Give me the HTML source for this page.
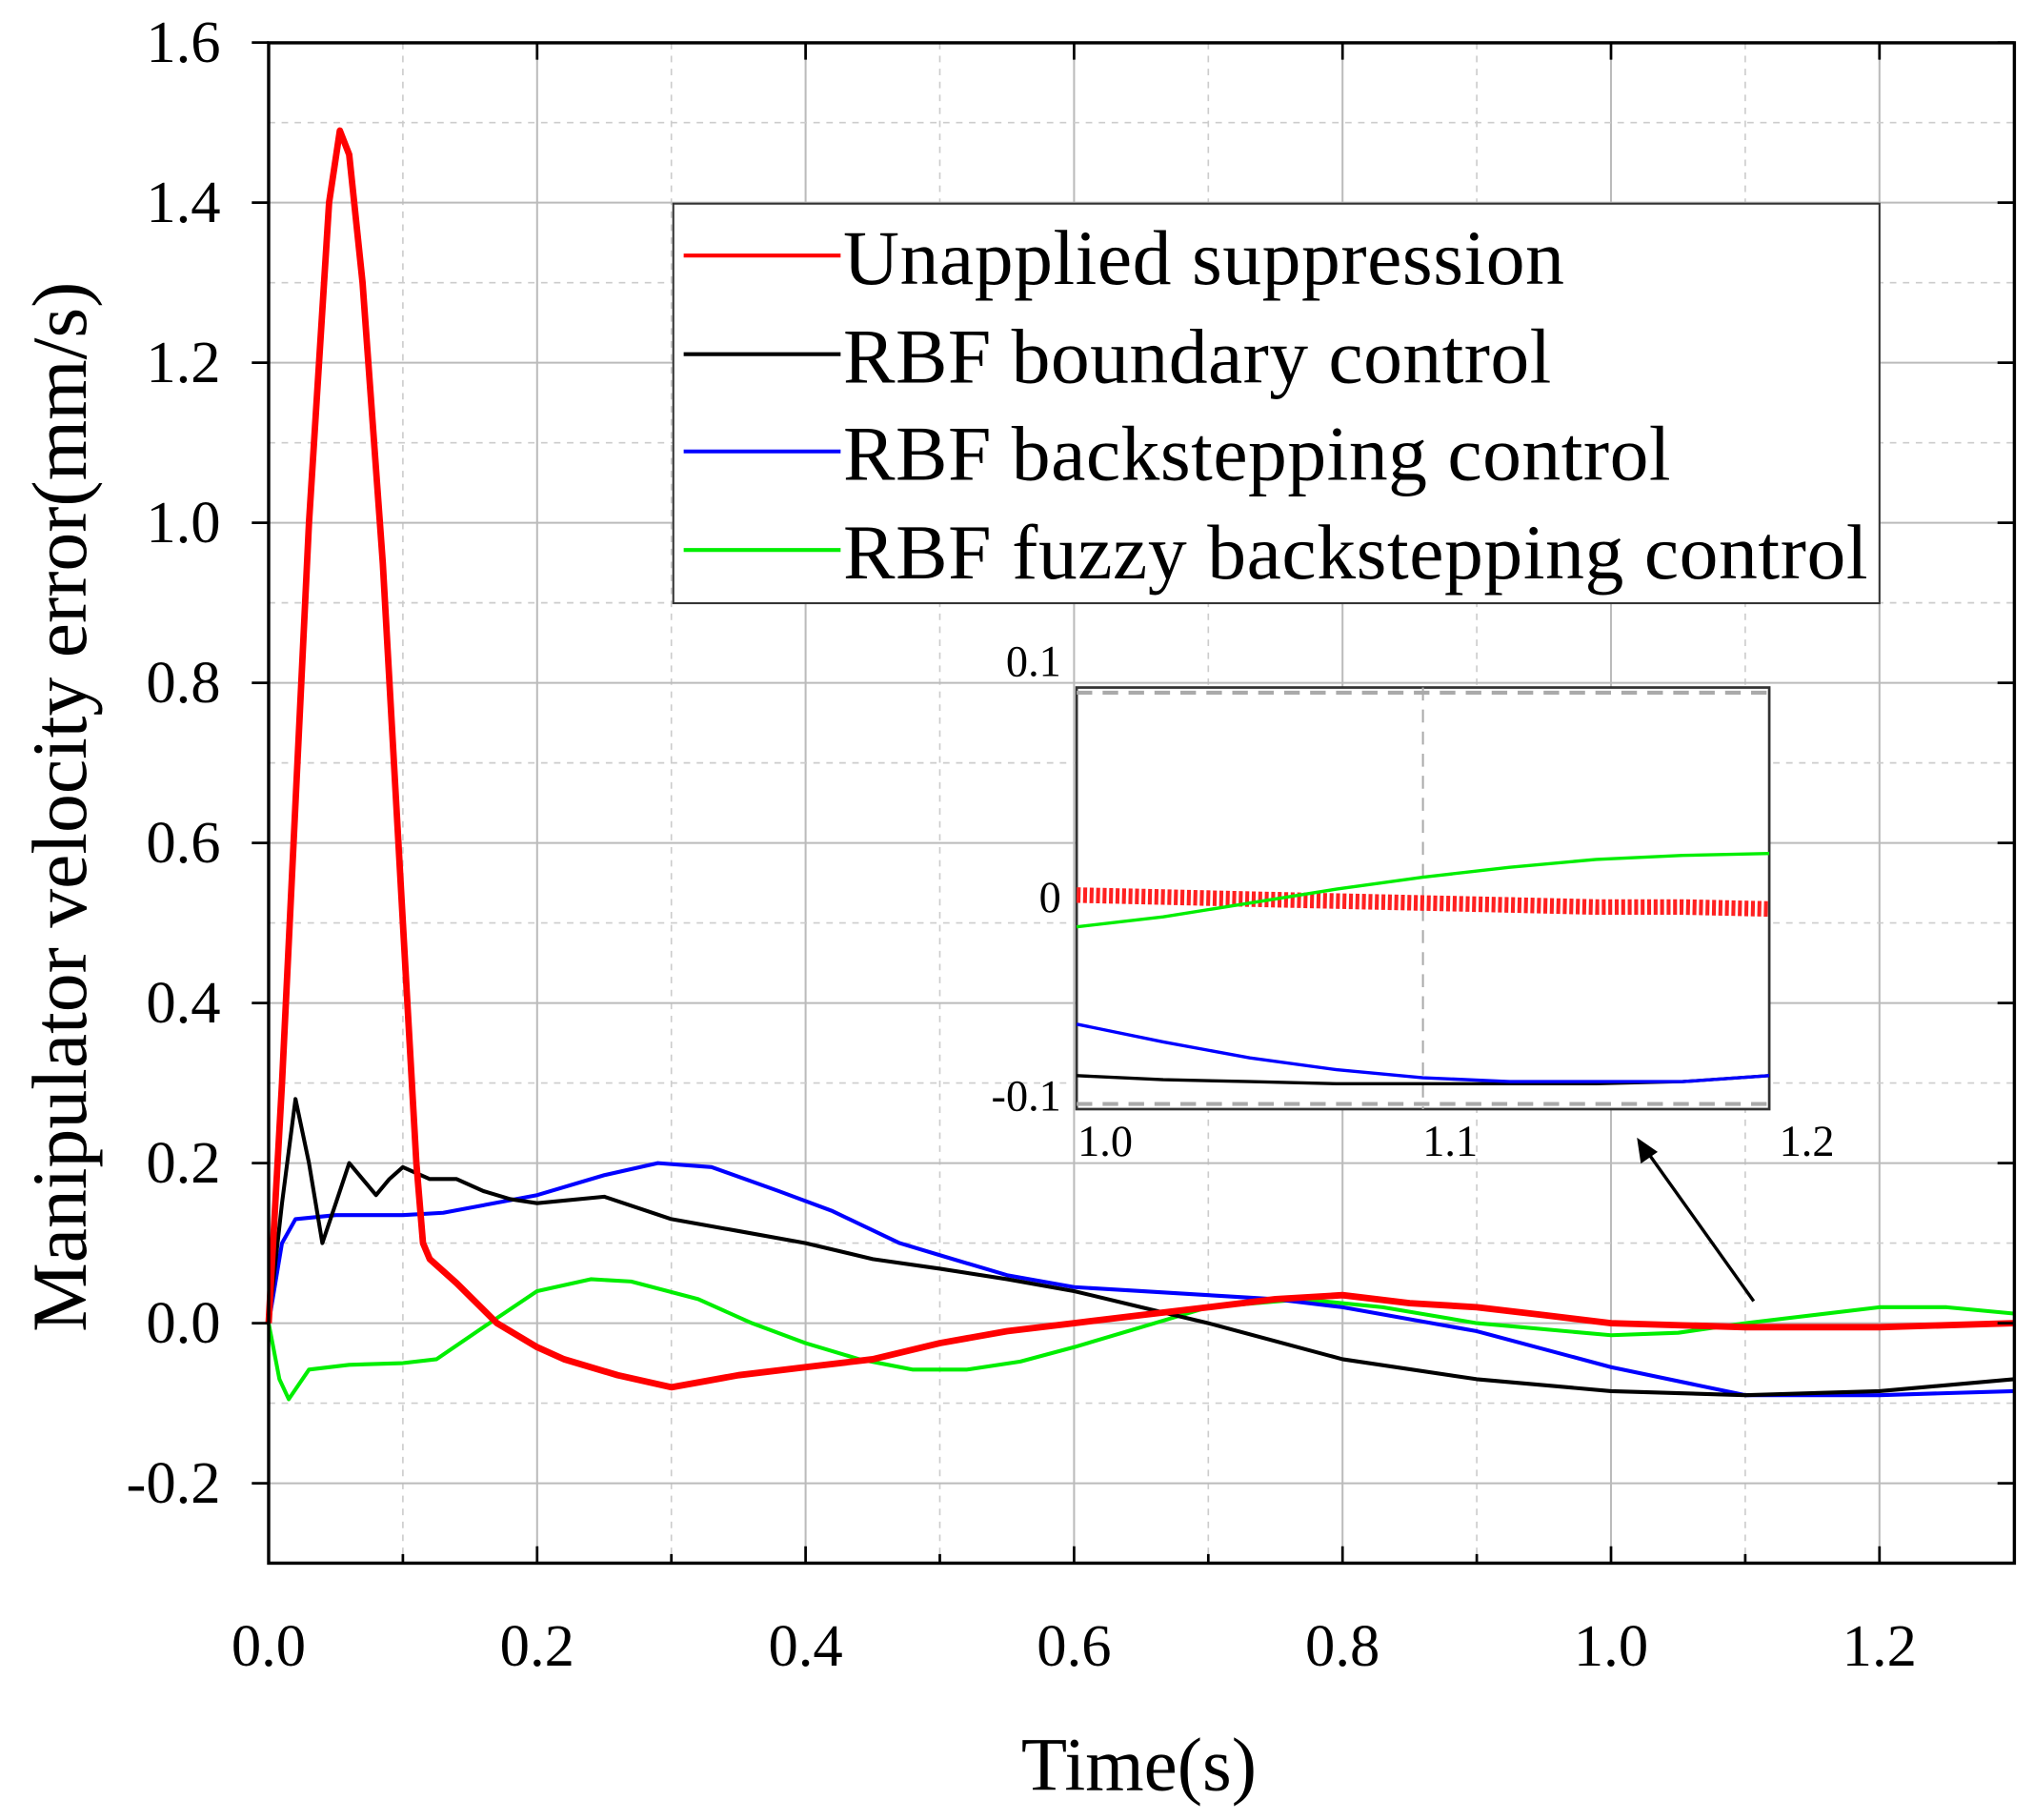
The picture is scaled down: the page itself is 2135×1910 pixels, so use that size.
<!DOCTYPE html>
<html><head><meta charset="utf-8"><style>
html,body{margin:0;padding:0;background:#fff}
svg{display:block}
text{font-family:"Liberation Serif",serif;fill:#000}
</style></head><body>
<svg id="chart" width="2135" height="1910" viewBox="0 0 1568 1403" xmlns="http://www.w3.org/2000/svg">
<g id="grid"></g>
<g id="series"></g>
<rect x="207" y="33" width="1346" height="1172" fill="none" stroke="#000" stroke-width="2.5"/>
<g id="ticks"></g>
<text transform="translate(66,622) rotate(-90)" text-anchor="middle" font-size="60">Manipulator velocity error(mm/s)</text>
<text x="878" y="1380" text-anchor="middle" font-size="58">Time(s)</text>
<g>
<rect x="519" y="157" width="930" height="308" fill="#fff" stroke="#333" stroke-width="1.5"/>
<g><line x1="527" y1="197" x2="648" y2="197" stroke="#ff0000" stroke-width="3"/><text x="650" y="219" font-size="60" textLength="556">Unapplied suppression</text></g>
<g><line x1="527" y1="273" x2="648" y2="273" stroke="#000" stroke-width="3"/><text x="650" y="295" font-size="60" textLength="546">RBF boundary control</text></g>
<g><line x1="527" y1="348" x2="648" y2="348" stroke="#0000ff" stroke-width="3"/><text x="650" y="370" font-size="60" textLength="638">RBF backstepping control</text></g>
<g><line x1="527" y1="424" x2="648" y2="424" stroke="#00ee00" stroke-width="3"/><text x="650" y="446" font-size="60" textLength="790">RBF fuzzy backstepping control</text></g>
</g>
<g id="inset"></g>
<g>
<line x1="1352" y1="1003" x2="1270" y2="888" stroke="#000" stroke-width="2.5"/>
<polygon points="1262,877 1265,897 1278,888" fill="#000"/>
</g>
</svg>
<script>
const xTicks=[0,0.2,0.4,0.6,0.8,1.0,1.2];
const xTickLabels=["0.0","0.2","0.4","0.6","0.8","1.0","1.2"];
const yTicks=[-0.2,0,0.2,0.4,0.6,0.8,1.0,1.2,1.4,1.6];
const yTickLabels=["-0.2","0.0","0.2","0.4","0.6","0.8","1.0","1.2","1.4","1.6"];
const redT=[0,0.01,0.03,0.045,0.053,0.06,0.07,0.085,0.1,0.11,0.115,0.12,0.14,0.17,0.2,0.22,0.26,0.3,0.35,0.4,0.45,0.5,0.55,0.6,0.65,0.7,0.75,0.8,0.85,0.9,0.95,1.0,1.1,1.2,1.3];
const redV=[0,0.3,1.0,1.4,1.49,1.46,1.3,0.95,0.5,0.2,0.1,0.08,0.05,0.0,-0.03,-0.045,-0.065,-0.08,-0.065,-0.055,-0.045,-0.025,-0.01,0.0,0.01,0.02,0.03,0.035,0.025,0.02,0.01,0.0,-0.005,-0.005,0.0];
const blackT=[0,0.01,0.02,0.03,0.04,0.05,0.06,0.07,0.08,0.09,0.1,0.12,0.14,0.16,0.18,0.2,0.25,0.3,0.35,0.4,0.45,0.5,0.55,0.6,0.65,0.7,0.8,0.9,1.0,1.1,1.2,1.3];
const blackV=[0,0.15,0.28,0.2,0.1,0.15,0.2,0.18,0.16,0.18,0.195,0.18,0.18,0.165,0.155,0.15,0.158,0.13,0.115,0.1,0.08,0.068,0.055,0.04,0.02,0.0,-0.045,-0.07,-0.085,-0.09,-0.085,-0.07];
const blueT=[0,0.01,0.02,0.05,0.1,0.13,0.2,0.25,0.29,0.33,0.38,0.42,0.47,0.5,0.55,0.6,0.65,0.7,0.75,0.8,0.9,1.0,1.1,1.2,1.3];
const blueV=[0,0.1,0.13,0.135,0.135,0.138,0.16,0.185,0.2,0.195,0.165,0.14,0.1,0.085,0.06,0.045,0.04,0.035,0.03,0.02,-0.01,-0.055,-0.09,-0.09,-0.085];
const greenT=[0,0.008,0.015,0.03,0.06,0.1,0.125,0.16,0.2,0.24,0.27,0.32,0.36,0.4,0.44,0.48,0.52,0.56,0.6,0.65,0.7,0.77,0.83,0.9,1.0,1.05,1.1,1.2,1.25,1.3];
const greenV=[0,-0.07,-0.095,-0.058,-0.052,-0.05,-0.045,-0.005,0.04,0.055,0.052,0.03,0.0,-0.025,-0.045,-0.058,-0.058,-0.048,-0.03,-0.005,0.02,0.03,0.02,0.0,-0.015,-0.012,0.0,0.02,0.02,0.012];
const insetT=[1.0,1.025,1.05,1.075,1.1,1.125,1.15,1.175,1.2];
const insetRed=[0,-0.001,-0.002,-0.003,-0.004,-0.005,-0.006,-0.006,-0.007];
const insetBlack=[-0.091,-0.093,-0.094,-0.095,-0.095,-0.095,-0.095,-0.094,-0.091];
const insetBlue=[-0.065,-0.074,-0.082,-0.088,-0.092,-0.094,-0.094,-0.094,-0.091];
const insetGreen=[-0.016,-0.011,-0.004,0.003,0.009,0.014,0.018,0.020,0.021];

const NS="http://www.w3.org/2000/svg";
const X=t=>207+t*1035, Y=v=>1020-v*617;
const IX=t=>830+(t-1.0)*2670, IY=v=>690-v*1530;
function mk(tag,attrs,parent){const e=document.createElementNS(NS,tag);for(const k in attrs)e.setAttribute(k,attrs[k]);parent.appendChild(e);return e;}
const grid=document.getElementById('grid'),ticks=document.getElementById('ticks'),series=document.getElementById('series'),inset=document.getElementById('inset');
for(let i=1;i<=12;i++){const t=i*0.1;const major=i%2===0;
 const l=mk('line',{x1:X(t),x2:X(t),y1:33,y2:1205,stroke:major?'#bbb':'#ccc','stroke-width':major?1.5:1.2,'stroke-dasharray':major?'none':'5,5'},grid);
 }
for(let i=-2;i<=15;i++){const v=i*0.1;const major=i%2===0;
 const l=mk('line',{x1:207,x2:1553,y1:Y(v),y2:Y(v),stroke:major?'#bbb':'#ccc','stroke-width':major?1.5:1.2,'stroke-dasharray':major?'none':'5,5'},grid);
 }
xTicks.forEach((t,i)=>{mk('line',{x1:X(t),x2:X(t),y1:1205,y2:1192,stroke:'#000','stroke-width':2},ticks);
 mk('line',{x1:X(t),x2:X(t),y1:33,y2:46,stroke:'#000','stroke-width':2},ticks);
 const tx=mk('text',{x:X(t),y:1284,'text-anchor':'middle','font-size':46},ticks);tx.textContent=xTickLabels[i];
 });
for(let i=1;i<13;i+=2){mk('line',{x1:X(i*0.1),x2:X(i*0.1),y1:1205,y2:1198,stroke:'#000','stroke-width':2},ticks);}
yTicks.forEach((v,i)=>{mk('line',{x1:207,x2:194,y1:Y(v),y2:Y(v),stroke:'#000','stroke-width':2},ticks);
 mk('line',{x1:1553,x2:1540,y1:Y(v),y2:Y(v),stroke:'#000','stroke-width':2},ticks);
 const tx=mk('text',{x:170,y:Y(v)+15,'text-anchor':'end','font-size':46},ticks);tx.textContent=yTickLabels[i];
 });
function path(T,V,fx,fy,color,w,parent,name){let d='';T.forEach((t,i)=>{d+=(i?'L':'M')+fx(t).toFixed(1)+','+fy(V[i]).toFixed(1);});
 const p=mk('path',{d:d,fill:'none',stroke:color,'stroke-width':w,'stroke-linejoin':'round'},parent);
 return p;}
path(greenT,greenV,X,Y,'#00ee00',3,series,'line-fuzzy-backstepping');
path(blueT,blueV,X,Y,'#0000ff',3,series,'line-backstepping');
path(blackT,blackV,X,Y,'#000',3,series,'line-boundary');
path(redT,redV,X,Y,'#ff0000',5,series,'line-unapplied');
const ir=mk('rect',{x:830,y:530,width:534,height:325,fill:'#fff',stroke:'#333','stroke-width':2},inset);

mk('line',{x1:830,x2:1364,y1:534,y2:534,stroke:'#aaa','stroke-width':3,'stroke-dasharray':'12,8'},inset);
mk('line',{x1:830,x2:1364,y1:851,y2:851,stroke:'#aaa','stroke-width':3,'stroke-dasharray':'12,8'},inset);
mk('line',{x1:IX(1.1),x2:IX(1.1),y1:530,y2:855,stroke:'#aaa','stroke-width':1.5,'stroke-dasharray':'10,7'},inset);
path(insetT,insetBlack,IX,IY,'#000',2.5,inset,'inset-line-boundary');
path(insetT,insetBlue,IX,IY,'#0000ff',2.5,inset,'inset-line-backstepping');
path(insetT,insetRed,IX,IY,'#ff2020',12,inset,'inset-line-unapplied').setAttribute('stroke-dasharray','3,2');
path(insetT,insetGreen,IX,IY,'#00ee00',2.5,inset,'inset-line-fuzzy');
[['0.1',818,521],['0',818,703],['-0.1',818,856]].forEach(a=>{const t=mk('text',{x:a[1],y:a[2],'text-anchor':'end','font-size':34},inset);t.textContent=a[0];
 });
[['1.0',852],['1.1',1118],['1.2',1393]].forEach(a=>{const t=mk('text',{x:a[1],y:891,'text-anchor':'middle','font-size':34},inset);t.textContent=a[0];
 });
</script>
</body></html>
